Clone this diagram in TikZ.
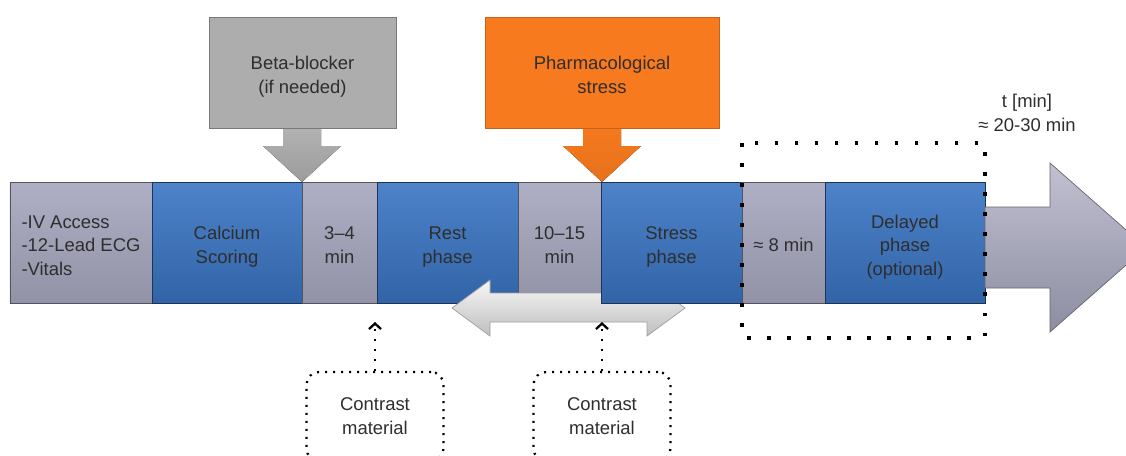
\documentclass[tikz,border=0pt]{standalone}
\usepackage{fontspec}
\setmainfont{Liberation Sans}
\usetikzlibrary{arrows.meta}

\definecolor{phaseblue}{HTML}{3A75C4}
\definecolor{waitgray}{HTML}{A6A6BE}
\definecolor{betagray}{HTML}{ADADAD}
\definecolor{stressorange}{HTML}{F77A1E}
\definecolor{txtgray}{HTML}{2E2E2E}

\begin{document}
\begin{tikzpicture}[x=.2mm,y=-.2mm,font=\fontsize{10.5}{13.6}\selectfont,
  every node/.style={text=txtgray,align=center,inner sep=0pt},
  oneline/.style={text depth=0pt,text height=10.7pt},
  twolines/.style={text depth=0pt,text height=24.3pt},
  threelines/.style={text depth=0pt,text height=37.9pt},
  phasebox/.style={minimum height=24.2mm,twolines,top color=phaseblue!90!white,bottom color=phaseblue!85!black,draw=phaseblue!45!black,line width=.5pt},
  waitbox/.style={minimum height=24.2mm,twolines,top color=waitgray!90!white,bottom color=waitgray!88!black,draw=waitgray!50!black,line width=.5pt},
  drugbox/.style={minimum height=22.2mm,twolines,line width=.4pt},
  contrastbox/.style={draw=black,line width=.45mm,dash pattern=on .4mm off 1.2mm,rounded corners=2.5mm,minimum width=27.4mm,minimum height=17.8mm},
  inject/.style={line width=.45mm,dash pattern=on .4mm off 1.6mm,-{Straight Barb[length=1.1mm,width=2.4mm]}}]
\useasboundingbox (0,0) rectangle (1126,455);
\clip (0,0) rectangle (1126,455);

% drugs given from above
\fill[top color=betagray!90!white,bottom color=betagray!90!black] (283,120) -- (283,146) -- (263,146) -- (302,182) -- (341,146) -- (321,146) -- (321,120) -- cycle;
\node[drugbox,fill=betagray,draw=betagray!70!black,minimum width=37.4mm] (beta) at (302.5,72.5) {Beta-blocker\\(if needed)};
\fill[top color=stressorange,bottom color=stressorange!93!black] (583,120) -- (583,146) -- (563,146) -- (602,182) -- (641,146) -- (621,146) -- (621,120) -- cycle;
\node[drugbox,fill=stressorange,draw=stressorange!80!black,minimum width=46.8mm] (pharma) at (602,72.5) {Pharmacological\\stress};

% time line
\node[waitbox,threelines,minimum width=28.4mm,align=left] (prep) at (81,242.5) {-IV Access\\-12-Lead ECG\\-Vitals};
\node[phasebox,minimum width=30mm] (calc) at (227,242.5) {Calcium\\Scoring};
\node[waitbox,minimum width=15mm] (wait1) at (339.5,242.5) {3–4\\min};
\node[phasebox,minimum width=28.2mm] (rest) at (447.5,242.5) {Rest\\phase};
\node[waitbox,minimum width=16.6mm] (wait2) at (559.5,242.5) {10–15\\min};

\draw[draw=gray!75,top color=gray!6,bottom color=gray!50] (452,308) -- (490,280) -- (490,293) -- (647,293) -- (647,280) -- (685,308) -- (647,336) -- (647,322) -- (490,322) -- (490,336) -- cycle;

\node[phasebox,minimum width=28.2mm] (stress) at (671.5,242.5) {Stress\\phase};
\node[waitbox,oneline,minimum width=16.6mm] (wait3) at (783.5,242.5) {≈ 8 min};
\node[phasebox,threelines,minimum width=32mm] (delay) at (905,242.5) {Delayed\\phase\\(optional)};

\draw[draw=waitgray!60!black,line width=.4pt,top color=waitgray!70!white,bottom color=waitgray!85!black] (985,207) -- (1050,207) -- (1050,163) -- (1146,247.5) -- (1050,332) -- (1050,288) -- (985,288) -- cycle;

\draw[line width=.7mm,dash pattern=on .7mm off 3.3mm] (742,143) rectangle (985,338);
\node (tlabel) at (1027,113) {t [min]\\≈ 20-30 min};

% contrast injections
\node[contrastbox] (cm1) at (375,416.5) {Contrast\\material};
\node[contrastbox] (cm2) at (602,416.5) {Contrast\\material};
\coordinate (inj1) at (375,322);
\coordinate (inj2) at (602,322);
\draw[inject] (cm1) -- (inj1);
\draw[inject] (cm2) -- (inj2);
\end{tikzpicture}
\end{document}
